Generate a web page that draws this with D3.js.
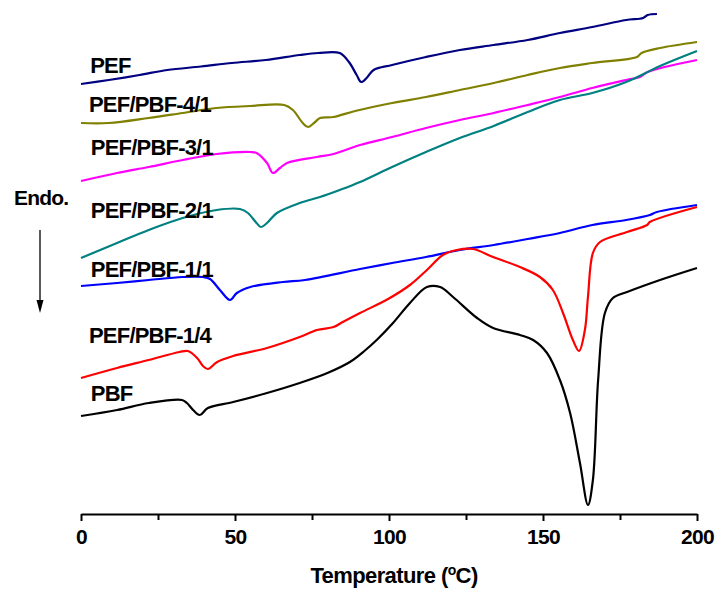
<!DOCTYPE html>
<html>
<head>
<meta charset="utf-8">
<script src="https://cdn.jsdelivr.net/npm/d3@7/dist/d3.min.js"></script>
<style>
  body { margin: 0; background: #fff; }
  text { font-family: "Liberation Sans", Arial, sans-serif; font-weight: bold; fill: #000; }
</style>
</head>
<body>
<div id="chart"></div>
<script>
// DSC heating curves, heat flow in arbitrary units (endo down), [temperature, value]
const PEF = [[0,86.0],[9,86.8],[19,87.8],[28,88.8],[39,89.5],[49,90.2],[60,90.8],[71,91.8],[77,92.2],[84,92.2],[87,90.4],[89.5,87.8],[91,86.4],[93,87.4],[95,88.8],[101,89.8],[112,91.4],[123,92.8],[134,93.8],[145,94.8],[155.5,96.2],[166,97.4],[177,98.8],[182.5,99.2],[184,99.8],[187,100]];
const PEF_PBF_41 = [[0,78.2],[9,78.2],[22,79.2],[33,80.2],[44,81.2],[55,81.6],[66,81.8],[68.8,80.8],[72,78.2],[73.7,77.4],[76,78.4],[77.6,79.2],[82,79.4],[89,80.6],[101,82.2],[112,83.4],[123,84.8],[134,86.2],[145,87.8],[155.5,89.2],[166,90.2],[180.5,91.4],[182,92.2],[188,93.2],[200,94.4]];
const PEF_PBF_31 = [[0,66.6],[11.7,68.2],[22,69.4],[33,70.8],[44,72],[55,72.4],[57,72.2],[60.4,70.2],[62.3,68.2],[64.6,69.2],[66.9,70.2],[76.6,71.4],[82,72],[90.6,73.8],[101,75.4],[112,77.2],[123,78.8],[134,80.2],[145,81.8],[155.5,83.4],[166,85.2],[177,86.8],[181.5,87.4],[184,88.4],[200,90.8]];
const PEF_PBF_21 = [[0,51.2],[11.7,54.2],[22,56.8],[33,59.2],[44,60.8],[51.6,61],[54.2,60.2],[57,58.2],[58.4,57.4],[60.4,58.2],[63.6,60.2],[71,62.2],[77.6,63.4],[84,64.8],[90.6,66.4],[101,69.4],[112,72.4],[123,75.2],[134,77.6],[145,80.4],[155.5,82.8],[166,84.2],[177,86.4],[188,89.6],[200,92.6]];
const PEF_PBF_11 = [[0,45.6],[11.7,46.2],[22,46.8],[33,47.4],[39.6,47.4],[41.9,47],[45.1,44.8],[48.4,42.8],[50.6,44.2],[55,45.4],[65.6,46.4],[72.7,46.8],[90.6,49],[101,50.2],[112,51.4],[123,52.8],[134,53.8],[145,55],[155.5,56.2],[166,57.8],[177,58.8],[184.7,59.8],[187,60.4],[200,61.8]];
const PEF_PBF_14 = [[0,27.2],[11.7,29.2],[22,30.8],[32,32.4],[34.7,32.6],[37.7,31.2],[39.6,29.6],[41.2,29],[44.2,30.4],[49.4,31.6],[60.4,33.2],[71,35.4],[76.6,36.8],[82,37.4],[85,38.4],[90.6,40.2],[99.7,43],[106.8,45.8],[112.3,48.8],[117.5,51.8],[122,52.8],[127.3,53],[133.8,51.4],[142.5,49.4],[149,47.4],[153.2,44.8],[156.5,40.2],[159.7,34.8],[161.7,32.6],[163.6,36.8],[164.6,43.4],[166.2,52.2],[168.5,54.4],[177.3,56.4],[183.8,57.8],[184.7,58.4],[200,61.4]];
const PBF = [[0,19.6],[11.7,20.8],[22,22.2],[32.8,22.8],[34.4,22.2],[36.4,20.8],[38.6,19.8],[41.2,21.2],[49.4,22.4],[60.4,24.2],[71,26.2],[80,28.2],[87.3,30.4],[92,32.6],[96,34.8],[101.3,38.2],[106.8,42.2],[112.3,45.4],[116.6,45.4],[120.8,43.4],[128.6,39.2],[133.8,37.2],[142.5,35.8],[146.8,34.8],[151.3,32.2],[155.5,26.8],[158.8,20.2],[162,10.2],[164.6,1.8],[166.2,6.8],[167.9,26.8],[170.1,40.2],[172.7,43.2],[177.3,44.4],[188,46.8],[200,49.2]];

const names = ["PEF", "PEF/PBF-4/1", "PEF/PBF-3/1", "PEF/PBF-2/1", "PEF/PBF-1/1", "PEF/PBF-1/4", "PBF"];
const curves = [PEF, PEF_PBF_41, PEF_PBF_31, PEF_PBF_21, PEF_PBF_11, PEF_PBF_14, PBF];
const colors = ["#000080", "#808000", "#ff00ff", "#008080", "#0000ff", "#ff0000", "#000000"];
// label anchor in data units (temperature, value)
const labelAt = [[3,88.2],[2.6,80.5],[3.2,71.8],[3.2,59.2],[3.2,47.4],[2.6,34.2],[3.2,22.6]];

const width = 719, height = 590;

const svg = d3.select("#chart").append("svg")
  .attr("width", width)
  .attr("height", height);

const x = d3.scaleLinear().domain([0, 200]).range([81, 697]);
const y = d3.scaleLinear().domain([0, 100]).range([514, 14]);

// bottom axis, minor ticks first
svg.append("g")
  .attr("transform", "translate(0,514)")
  .call(d3.axisBottom(x).tickValues([25, 75, 125, 175]).tickSize(6).tickFormat(""))
  .call(g => g.select(".domain").remove())
  .selectAll("line").attr("stroke", "#000").attr("stroke-width", 2);

const xAxis = svg.append("g")
  .attr("transform", "translate(0,514)")
  .call(d3.axisBottom(x).tickValues([0, 50, 100, 150, 200]).tickSize(7).tickSizeOuter(0).tickPadding(8));
xAxis.select(".domain").attr("stroke", "#000").attr("stroke-width", 2);
xAxis.selectAll(".tick line").attr("stroke", "#000").attr("stroke-width", 2);
xAxis.selectAll(".tick text")
  .style("font-family", "'Liberation Sans', Arial, sans-serif")
  .style("font-weight", "bold")
  .style("font-size", "21px")
  .style("letter-spacing", "-0.6px")
  .attr("fill", "#000");

// axis title
const title = svg.append("text")
  .attr("x", 394)
  .attr("y", 583)
  .attr("text-anchor", "middle")
  .style("font-size", "22px")
  .style("letter-spacing", "-0.6px");
title.append("tspan").text("Temperature (");
title.append("tspan").attr("baseline-shift", "super").style("font-size", "14px").text("o");
title.append("tspan").text("C)");

// curves
const line = d3.line()
  .x(d => x(d[0]))
  .y(d => y(d[1]))
  .curve(d3.curveCatmullRom.alpha(0.5));

svg.selectAll("path.curve")
  .data(curves)
  .join("path")
    .attr("class", "curve")
    .attr("d", line)
    .attr("fill", "none")
    .attr("stroke", (d, i) => colors[i])
    .attr("stroke-width", 2.2)
    .attr("stroke-linejoin", "round");

// curve labels
svg.selectAll("text.label")
  .data(names)
  .join("text")
    .attr("class", "label")
    .attr("x", (d, i) => x(labelAt[i][0]))
    .attr("y", (d, i) => y(labelAt[i][1]))
    .style("font-size", "22px")
    .style("letter-spacing", "-0.8px")
    .text(d => d);

// endo marker
svg.append("text")
  .attr("x", 14)
  .attr("y", 205)
  .style("font-size", "21px")
  .style("letter-spacing", "-0.8px")
  .text("Endo.");

svg.append("line")
  .attr("x1", 40).attr("x2", 40)
  .attr("y1", 230).attr("y2", 302)
  .attr("stroke", "#000").attr("stroke-width", 1.3);
svg.append("path")
  .attr("d", d3.line()([[36.5, 300], [43.5, 300], [40, 313]]))
  .attr("fill", "#000");
</script>
</body>
</html>
